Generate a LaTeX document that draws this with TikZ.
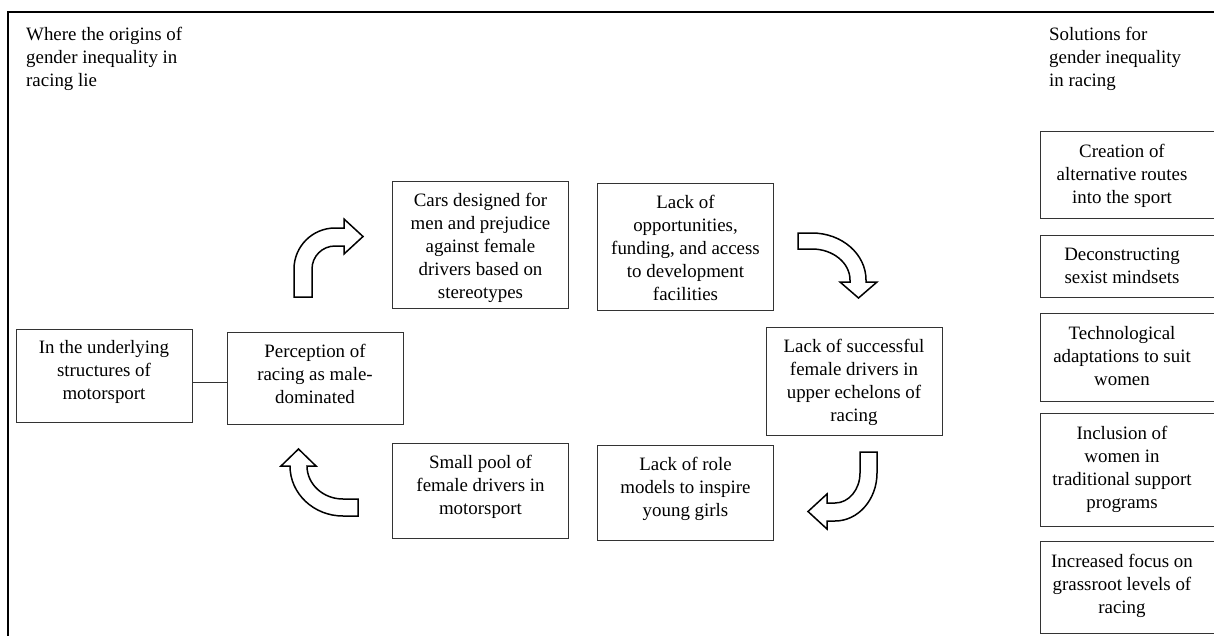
\documentclass[tikz,border=0pt]{standalone}
\usepackage{fontspec}
\setmainfont{Liberation Serif}
\usepackage{tikz}
\usetikzlibrary{calc}
\newcommand{\boxfont}{\fontsize{18.9}{23}\selectfont}
\tikzset{box/.style={draw=black!80, line width=1pt, minimum width=176pt, label={[boxtext]north:{#1}}},
  boxtext/.style={anchor=north, yshift=-12pt, inner sep=0pt, align=center, font=\boxfont},
  solbox/.style={minimum width=162pt, label={[boxtext]north:{#1}}},
  heading/.style={anchor=north west, inner sep=0pt, align=left, font=\boxfont},
  bigarrow/.style={draw, line width=1.5pt, line join=miter, fill=white}}

\begin{document}
\begin{tikzpicture}[x=1pt, y=-1pt]
    \path[use as bounding box] (0, 0) rectangle (1214, 635);
    \clip (0, 0) rectangle (1214, 635);
    \draw[line width=2.5pt] (8, 645) -- (8, 12) -- (1225, 12);

    \node[heading] at (26, 27) (origins) {Where the origins of\\ gender inequality in\\ racing lie};
    \node[heading] at (1049, 27) (solutions) {Solutions for\\ gender inequality\\ in racing};

    % the cycle
    \node[box={In the underlying\\ structures of\\ motorsport}, minimum height=93pt] at (104, 375.5) (under) {};
    \node[box={Perception of\\ racing as male-\\ dominated}, minimum height=92pt] at (315, 378) (percep) {};
    \node[box={Cars designed for\\ men and prejudice\\ against female\\ drivers based on\\ stereotypes}, minimum height=127pt] at (480.5, 244.5) (cars) {};
    \node[box={Lack of\\ opportunities,\\ funding, and access\\ to development\\ facilities}, minimum height=127pt] at (685.5, 246.5) (funding) {};
    \node[box={Lack of successful\\ female drivers in\\ upper echelons of\\ racing}, minimum height=108pt] at (854, 381) (success) {};
    \node[box={Lack of role\\ models to inspire\\ young girls}, minimum height=95pt] at (685.5, 492.5) (rolemodels) {};
    \node[box={Small pool of\\ female drivers in\\ motorsport}, minimum height=95pt] at (480.5, 490.5) (pool) {};

    \coordinate (link) at (0, 382);
    \draw[draw=black!80, line width=1pt] (under.east |- link) -- (percep.west |- link);

    \draw[bigarrow] (294, 297) -- (294, 269) .. controls (294, 246.4) and (312.4, 228) .. (335, 228) -- (344, 228) -- (344, 219) -- (363, 236.5) -- (344, 254) -- (344, 246) -- (335, 246) .. controls (322.3, 246) and (312, 256.3) .. (312, 269) -- (312, 297) -- cycle;
    \draw[bigarrow] (798, 233) -- (812, 233) .. controls (841.8, 233) and (866, 254) .. (866, 280) -- (866, 282) -- (877, 282) -- (858.5, 298) -- (840, 282) -- (850, 282) -- (850, 280) .. controls (850, 262.9) and (833, 249) .. (812, 249) -- (798, 249) -- cycle;
    \draw[bigarrow] (860, 452) -- (877, 452) -- (877, 473) .. controls (877, 499.5) and (858.2, 521) .. (835, 521) -- (827, 521) -- (827, 529) -- (808, 511.5) -- (827, 494) -- (827, 503) -- (835, 503) .. controls (848.8, 503) and (860, 489.6) .. (860, 473) -- cycle;
    \draw[bigarrow] (358, 499) -- (358, 516) -- (343, 516) .. controls (313.7, 516) and (290, 493.6) .. (290, 466) -- (281, 466) -- (298.5, 449) -- (316, 466) -- (307, 466) .. controls (307, 484.2) and (323.1, 499) .. (343, 499) -- cycle;

    % solutions, cut off at the right edge
    \node[solbox={Creation of\\ alternative routes\\ into the sport}, minimum height=86pt] at (1122, 175) (routes) {};
    \node[solbox={Deconstructing\\ sexist mindsets}, minimum height=61pt] at (1122, 266.5) (mindsets) {};
    \node[solbox={Technological\\ adaptations to suit\\ women}, minimum height=87pt] at (1122, 357.5) (tech) {};
    \node[solbox={Inclusion of\\ women in\\ traditional support\\ programs}, minimum height=112pt] at (1122, 470) (inclusion) {};
    \node[solbox={Increased focus on\\ grassroot levels of\\ racing}, minimum height=91pt] at (1122, 587.5) (grassroot) {};
    \foreach \s in {routes, mindsets, tech, inclusion, grassroot}
      \draw[draw=black!80, line width=1pt] ($(\s.north east)+(25, 0)$) -- (\s.north west) -- (\s.south west) -- ($(\s.south east)+(25, 0)$);
  \end{tikzpicture}
\end{document}
